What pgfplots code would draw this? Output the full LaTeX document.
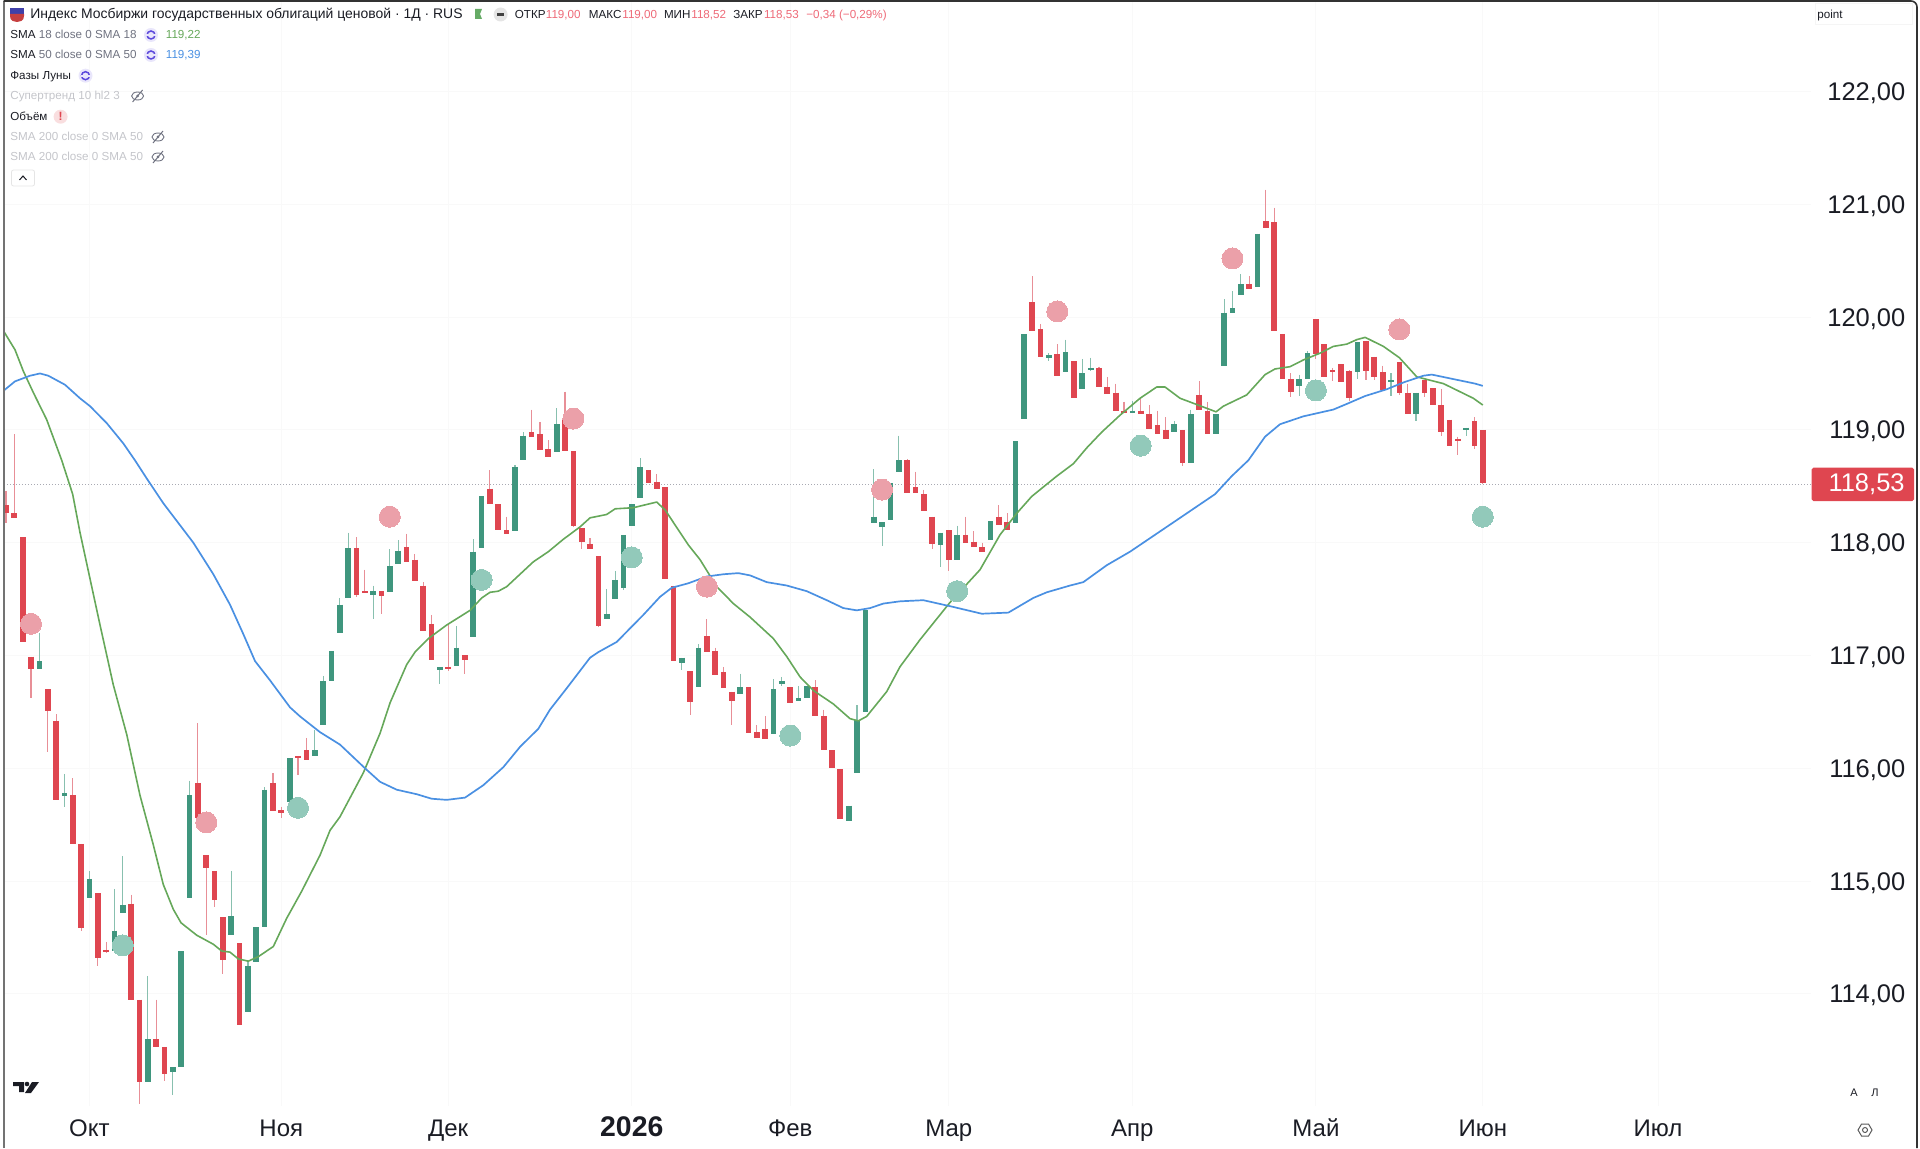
\documentclass[border=0pt]{standalone}
\usepackage{fontspec}
\setmainfont{Liberation Sans}
\usepackage{pgfplots}
\usepackage{pgfplotstable}
\pgfplotsset{compat=1.18}
\definecolor{cred}{HTML}{DF4650}
\definecolor{cgreen}{HTML}{3F967E}
\definecolor{wred}{HTML}{E88F97}
\definecolor{wgreen}{HTML}{88C0AF}
\definecolor{dpink}{HTML}{EBA0A9}
\definecolor{dteal}{HTML}{92C9BA}
\definecolor{sgreen}{HTML}{66A85A}
\definecolor{sblue}{HTML}{4A90E2}
\definecolor{vpink}{HTML}{EE6A78}
\definecolor{mgray}{HTML}{6F7280}
\definecolor{hgray}{HTML}{C4C5CA}
\definecolor{ink}{HTML}{1A1C24}
\definecolor{purp}{HTML}{5B48DC}
\definecolor{lav}{HTML}{E9E6FB}
\pgfplotstableread{
i top bot hi lo
0 118.33 118.26 118.46 118.17
1 118.26 118.22 118.96 118.22
2 118.05 117.12 118.05 117.12
3 116.99 116.88 116.99 116.62
5 116.70 116.51 116.70 116.14
6 116.42 115.72 116.48 115.72
8 115.76 115.33 115.91 115.33
9 115.33 114.58 115.33 114.56
11 114.89 114.32 114.89 114.25
12 114.39 114.37 114.46 114.36
15 114.80 113.95 114.88 113.95
16 113.95 113.22 113.95 113.02
18 113.60 113.53 113.95 113.53
19 113.53 113.29 113.53 113.23
23 115.87 115.56 116.40 115.56
24 115.23 115.12 115.23 114.52
25 115.09 114.83 115.09 114.77
26 114.68 114.30 114.68 114.18
28 114.45 113.72 114.45 113.72
32 115.87 115.62 115.96 115.62
33 115.63 115.60 115.66 115.56
35 116.11 116.09 116.11 115.94
36 116.16 116.07 116.27 116.07
42 117.95 117.54 118.05 117.52
43 117.57 117.55 117.76 117.55
45 117.57 117.53 117.57 117.37
48 117.96 117.83 118.08 117.83
49 117.85 117.66 117.90 117.66
50 117.62 117.22 117.65 117.22
51 117.28 116.96 117.36 116.96
53 116.90 116.88 117.28 116.86
55 117.00 116.96 117.00 116.84
58 118.48 118.34 118.64 118.34
59 118.34 118.11 118.34 118.11
60 118.11 118.08 118.23 118.08
63 118.98 118.94 119.18 118.94
64 118.96 118.82 119.07 118.82
65 118.83 118.76 118.91 118.76
67 119.09 118.81 119.34 118.81
68 118.81 118.15 118.81 118.14
69 118.13 118.01 118.13 117.94
70 117.99 117.94 118.04 117.94
71 117.88 117.26 117.88 117.25
77 118.64 118.53 118.64 118.53
78 118.54 118.48 118.61 118.48
79 118.49 117.68 118.49 117.68
80 117.62 116.95 117.62 116.95
82 116.86 116.59 116.86 116.47
84 117.17 117.03 117.32 117.03
85 117.04 116.83 117.07 116.83
86 116.85 116.71 116.90 116.71
87 116.68 116.60 116.68 116.38
89 116.72 116.31 116.72 116.31
90 116.32 116.27 116.38 116.27
91 116.35 116.26 116.46 116.26
94 116.72 116.58 116.72 116.58
97 116.72 116.46 116.78 116.46
98 116.46 116.16 116.52 116.16
99 116.16 116.00 116.16 116.00
100 115.99 115.55 115.99 115.55
108 118.73 118.44 118.74 118.44
109 118.49 118.44 118.63 118.44
110 118.43 118.28 118.47 118.28
111 118.23 117.99 118.23 117.94
113 118.11 117.85 118.11 117.75
115 118.07 118.00 118.23 118.00
116 118.01 117.96 118.10 117.96
117 117.96 117.92 118.00 117.92
119 118.23 118.16 118.33 118.16
120 118.18 118.11 118.26 118.11
123 120.13 119.88 120.36 119.88
124 119.89 119.65 119.94 119.65
126 119.67 119.48 119.76 119.48
128 119.61 119.28 119.61 119.28
131 119.55 119.38 119.56 119.38
132 119.38 119.32 119.47 119.32
133 119.33 119.17 119.41 119.17
134 119.17 119.15 119.25 119.15
136 119.17 119.14 119.27 119.14
137 119.14 119.01 119.22 119.01
138 119.04 118.96 119.17 118.96
139 119.00 118.92 119.11 118.92
141 119.00 118.71 119.00 118.68
143 119.31 119.18 119.43 119.18
144 119.17 118.96 119.25 118.96
149 120.29 120.25 120.36 120.25
151 120.85 120.79 121.13 120.79
152 120.84 119.88 120.97 119.88
153 119.85 119.45 119.85 119.45
154 119.45 119.34 119.50 119.29
157 119.98 119.67 119.98 119.63
158 119.76 119.47 119.76 119.47
159 119.53 119.51 119.55 119.43
160 119.58 119.42 119.58 119.42
161 119.52 119.28 119.53 119.26
163 119.79 119.52 119.79 119.44
164 119.65 119.47 119.65 119.44
165 119.51 119.35 119.57 119.35
167 119.60 119.33 119.60 119.31
168 119.33 119.14 119.41 119.14
170 119.44 119.33 119.44 119.29
171 119.37 119.22 119.37 119.22
172 119.22 118.98 119.36 118.95
173 119.09 118.86 119.09 118.86
174 118.92 118.90 118.94 118.78
176 119.08 118.86 119.11 118.83
177 119.00 118.53 119.00 118.52
}\redbars
\pgfplotstableread{
i top bot hi lo
4 116.95 116.88 117.20 116.88
7 115.78 115.75 115.95 115.66
10 115.02 114.85 115.09 114.85
13 114.56 114.38 114.93 114.38
14 114.79 114.72 115.22 114.72
17 113.60 113.22 114.16 113.22
20 113.35 113.31 113.35 113.10
21 114.38 113.35 114.38 113.35
22 115.76 114.85 115.89 114.85
27 114.69 114.52 115.09 114.52
29 114.25 113.84 114.29 113.84
30 114.59 114.28 114.59 114.28
31 115.81 114.59 115.83 114.59
34 116.09 115.70 116.09 115.70
37 116.16 116.11 116.34 116.11
38 116.77 116.38 116.82 116.38
39 117.04 116.77 117.04 116.77
40 117.45 117.20 117.51 117.20
41 117.95 117.51 118.09 117.51
44 117.57 117.54 117.62 117.32
46 117.79 117.56 117.94 117.56
47 117.93 117.81 118.02 117.81
52 116.90 116.87 116.90 116.75
54 117.07 116.91 117.26 116.91
56 117.92 117.16 118.03 117.16
57 118.41 117.95 118.41 117.95
61 118.67 118.10 118.69 118.10
62 118.95 118.73 118.98 118.73
66 119.05 118.80 119.19 118.80
72 117.37 117.32 117.59 117.32
73 117.67 117.50 117.75 117.50
74 118.07 117.60 118.07 117.58
75 118.34 118.15 118.34 118.15
76 118.67 118.40 118.75 118.40
81 116.98 116.93 116.98 116.87
83 117.07 116.72 117.10 116.72
88 116.72 116.66 116.84 116.66
92 116.70 116.30 116.79 116.30
93 116.77 116.75 116.81 116.73
95 116.62 116.60 116.73 116.60
96 116.73 116.62 116.73 116.62
101 115.67 115.53 115.67 115.53
102 116.43 115.96 116.56 115.96
103 117.40 116.50 117.40 116.50
104 118.23 118.17 118.65 118.17
105 118.18 118.14 118.18 117.97
106 118.53 118.20 118.53 118.20
107 118.73 118.63 118.95 118.63
112 118.09 117.98 118.09 117.78
114 118.07 117.85 118.15 117.85
118 118.19 118.02 118.19 118.02
121 118.90 118.17 118.90 118.17
122 119.85 119.10 119.85 119.10
125 119.66 119.64 119.68 119.61
127 119.69 119.51 119.80 119.51
129 119.50 119.36 119.63 119.36
130 119.55 119.53 119.64 119.52
135 119.17 119.15 119.26 119.15
140 119.05 118.98 119.08 118.98
142 119.14 118.71 119.18 118.71
145 119.14 118.96 119.14 118.96
146 120.04 119.57 120.16 119.57
147 120.08 120.04 120.23 120.04
148 120.29 120.20 120.38 120.20
150 120.74 120.27 120.74 120.27
155 119.45 119.39 119.49 119.30
156 119.68 119.45 119.70 119.45
162 119.78 119.51 119.78 119.45
166 119.44 119.42 119.50 119.30
169 119.33 119.14 119.33 119.08
175 119.02 119.00 119.02 118.95
}\greenbars
\pgfplotstableread{
x y
-0.24 119.87
1.08 119.71
2.08 119.52
3.28 119.33
4.88 119.09
6.68 118.73
7.99 118.43
8.87 118.09
10.07 117.68
11.27 117.27
12.86 116.74
14.47 116.30
16.06 115.76
17.66 115.32
18.85 114.97
20.05 114.75
20.98 114.63
22.86 114.52
24.85 114.44
25.85 114.38
26.85 114.37
27.84 114.31
29.04 114.29
30.24 114.33
32.04 114.42
33.64 114.67
35.44 114.91
37.64 115.23
38.84 115.45
40.03 115.57
42.83 115.96
44.83 116.31
46.03 116.58
48.03 116.92
49.02 117.03
50.62 117.15
52.82 117.27
55.62 117.40
57.02 117.51
58.01 117.56
59.01 117.57
60.01 117.61
63.2 117.83
65 117.92
66.8 118.03
68.8 118.14
70 118.22
72 118.25
73 118.30
75.19 118.31
77.99 118.36
79 118.29
81.78 117.98
83.18 117.85
85.19 117.61
87.18 117.46
89.18 117.34
91.97 117.15
93.58 116.99
95.17 116.81
96.76 116.69
99.16 116.57
101.16 116.44
102.16 116.42
103.16 116.46
105.56 116.68
107.15 116.90
109.55 117.14
113.14 117.47
116.74 117.76
119.14 118.07
121.14 118.26
122.94 118.41
125.94 118.59
127.93 118.70
129.53 118.84
131.33 118.98
133.52 119.13
135.92 119.28
137.92 119.38
138.92 119.38
140.72 119.28
145.03 119.16
145.91 119.21
148.71 119.31
150.91 119.49
152.1 119.54
153.9 119.56
155.5 119.62
157.5 119.68
159.09 119.74
160.7 119.76
161.9 119.80
162.9 119.82
165.09 119.74
167 119.64
169.09 119.47
170.68 119.44
172.28 119.41
175.87 119.28
177 119.22
}\smaA
\pgfplotstableread{
x y
-0.24 119.35
1.08 119.43
2.88 119.48
4.08 119.50
5.07 119.48
7.07 119.40
8.87 119.28
10.07 119.21
12.07 119.06
14.06 118.88
15.46 118.73
16.86 118.57
18.85 118.35
22.45 118.00
24.85 117.72
26.85 117.45
28.44 117.19
29.85 116.95
31.64 116.78
34.04 116.54
35.24 116.46
37.64 116.32
40.03 116.21
43.03 116.00
44.83 115.88
46.83 115.81
49.23 115.77
51.02 115.73
52.82 115.72
55.02 115.74
57.21 115.85
59.61 116.01
61.61 116.19
63.8 116.35
65.2 116.52
67.21 116.71
70 116.98
71 117.03
73.2 117.12
74.79 117.24
76.39 117.36
78.39 117.52
79.79 117.60
81.78 117.64
83.99 117.70
85.98 117.72
87.77 117.73
89.18 117.71
91.18 117.65
93.58 117.62
95.97 117.57
98.37 117.49
100.36 117.42
101.96 117.40
103.56 117.42
105.15 117.46
107.15 117.48
109.95 117.49
113.55 117.43
116.95 117.37
120.14 117.38
123.13 117.51
124.74 117.56
127.53 117.62
129.12 117.65
131.93 117.80
134.72 117.92
137.92 118.08
140.32 118.20
144.91 118.43
146.91 118.59
148.9 118.73
150.91 118.94
152.7 119.05
155.5 119.12
159.09 119.18
160.7 119.23
162.9 119.30
165.49 119.36
167.48 119.42
169.88 119.48
170.89 119.49
173.48 119.45
176.08 119.41
177 119.39
}\smaB
\pgfplotstableread{
i p
3 117.28
24 115.52
46 118.23
68 119.10
84 117.61
105 118.47
126 120.05
147 120.52
167 119.89
}\moonfull
\pgfplotstableread{
i p
14 114.43
35 115.65
57 117.67
75 117.87
94 116.29
114 117.57
136 118.86
157 119.35
177 118.23
}\moonnew
% helpers for the header
\newcommand\hd[1]{\fontsize{6.97pt}{8pt}\selectfont #1}
\newcommand\sm[1]{\fontsize{5.82pt}{7pt}\selectfont #1}
\tikzset{lab/.style={anchor=west,inner sep=0pt,text height=5pt,text depth=1.2pt}}
\newcommand\refresh[2]{%
  \fill[lav] (#1,#2) circle (7);
  \draw[purp,line width=.75pt] (#1,#2) circle (4);
  \fill[lav] (#1-5,#2-1) rectangle (#1-2,#2+1);
  \fill[lav] (#1+2,#2-1) rectangle (#1+5,#2+1);}
\newcommand\eyeoff[2]{%
  \draw[mgray,line width=.45pt] (#1,#2) ellipse (6 and 4);
  \fill[mgray] (#1,#2) circle (1.5);
  \draw[mgray,line width=.5pt] (#1-5,#2+6) -- (#1+5,#2-6);}
\begin{document}
\begin{tikzpicture}
\useasboundingbox (0,0) rectangle (960pt,574pt);
\begin{axis}[
  at={(2pt,21pt)},anchor=south west,
  scale only axis,width=903.5pt,height=552pt,
  xmin=-0.24,xmax=216.34,ymin=113.006,ymax=122.793,
  axis line style={draw=none},
  major tick length=0pt,
  grid=major,
  grid style={color=black!2.5,line width=.5pt},
  xtick={10,33,53,75,94,113,135,157,177,198},
  xticklabels={Окт,Ноя,Дек,{\fontsize{14.2pt}{16pt}\selectfont\textbf{2026}},Фев,Мар,Апр,Май,Июн,Июл},
  ytick={114,115,116,117,118,119,120,121,122},
  yticklabels={114{,}00,115{,}00,116{,}00,117{,}00,118{,}00,119{,}00,120{,}00,121{,}00,122{,}00},
  ticklabel pos=right,
  xticklabel pos=bottom,
  yticklabel pos=right,
  xticklabel style={font=\fontsize{12pt}{14pt}\selectfont,text=ink,anchor=base,yshift=-15pt},
  yticklabel style={font=\fontsize{12.75pt}{15pt}\selectfont,text=ink,anchor=east,xshift=50.7pt,yshift=-.9pt},
  clip=true,
]
% close price line
\addplot[mgray!60,line width=.3pt,dash pattern=on .5pt off 1pt] coordinates {(-0.24,118.52) (216.34,118.52)};
% moon phases
\addplot[only marks,color=dpink,mark=*,mark size=5.25pt,mark options={draw=dpink,line width=0pt,fill=dpink}] table[x=i,y=p] {\moonfull};
\addplot[only marks,color=dteal,mark=*,mark size=5.25pt,mark options={draw=dteal,line width=0pt,fill=dteal}] table[x=i,y=p] {\moonnew};
% wicks
\addplot[draw=none,mark=none,error bars/.cd,y dir=minus,y explicit,error mark=none,error bar style={line width=.55pt,color=wred}]
  table[x=i,y=hi,y error minus expr=\thisrow{hi}-\thisrow{lo}] {\redbars};
\addplot[draw=none,mark=none,error bars/.cd,y dir=minus,y explicit,error mark=none,error bar style={line width=.55pt,color=wgreen}]
  table[x=i,y=hi,y error minus expr=\thisrow{hi}-\thisrow{lo}] {\greenbars};
% bodies
\addplot[draw=none,mark=none,error bars/.cd,y dir=minus,y explicit,error mark=none,error bar style={line width=2.85pt,color=cred}]
  table[x=i,y=top,y error minus expr=\thisrow{top}-\thisrow{bot}] {\redbars};
\addplot[draw=none,mark=none,error bars/.cd,y dir=minus,y explicit,error mark=none,error bar style={line width=2.85pt,color=cgreen}]
  table[x=i,y=top,y error minus expr=\thisrow{top}-\thisrow{bot}] {\greenbars};
% moving averages
\addplot[sgreen,line width=.8pt,line join=round] table[x=x,y=y] {\smaA};
\addplot[sblue,line width=.85pt,line join=round] table[x=x,y=y] {\smaB};
\end{axis}
\begin{scope}[yshift=574pt,x=.5pt,y=-.5pt]
% frame
\draw[black!55,line width=1pt] (3.5,1148) -- (3.5,1);
\draw[black!80,line width=.8pt,rounded corners=3pt] (3.5,1) -- (1917,1) -- (1917,1148);
% price badge
\fill[cred,rounded corners=.8pt] (1811.7,467.7) rectangle (1914,501);
\node[anchor=east,inner sep=0pt,text=white,font=\fontsize{12.75pt}{15pt}\selectfont] at (1905,484) {118,53};
% flag
\fill[blue!55!black!75] (10,8) rectangle (24,14);
\fill[red!70!black!75] (10,14) -- (24,14) -- (24,16) .. controls (24,21) and (20,22) .. (17,22) .. controls (14,22) and (10,21) .. (10,16) -- cycle;
% title row
\node[lab,text=ink] at (30,14.5) {\hd{Индекс Мосбиржи государственных облигаций ценовой · 1Д · RUS}};
\fill[green!45!black!60] (475,9) -- (482,9) -- (480,14) -- (482,19) -- (475,19) -- cycle;
\fill[black!10] (500.6,14.5) circle (7);
\fill[black!75] (497,13) rectangle (504,16);
\node[lab,text=ink] at (514.5,14.5) {\sm{ОТКР}};
\node[lab,text=vpink] at (545.5,14.5) {\sm{119,00}};
\node[lab,text=ink] at (588.5,14.5) {\sm{МАКС}};
\node[lab,text=vpink] at (622,14.5) {\sm{119,00}};
\node[lab,text=ink] at (663.6,14.5) {\sm{МИН}};
\node[lab,text=vpink] at (691,14.5) {\sm{118,52}};
\node[lab,text=ink] at (733,14.5) {\sm{ЗАКР}};
\node[lab,text=vpink] at (763.6,14.5) {\sm{118,53}};
\node[lab,text=vpink] at (806,14.5) {\sm{−0,34 (−0,29\%)}};
\draw[black!4,line width=.4pt] (1815,3) rectangle (1912,24);
\node[lab,text=ink] at (1817,14.5) {\sm{point}};
% indicators
\node[lab,text=mgray] at (10,35) {\sm{\textcolor{ink}{SMA} 18 close 0 SMA 18}};
\refresh{151}{35}
\node[lab,text=sgreen] at (165.5,35) {\sm{119,22}};
\node[lab,text=mgray] at (10,55) {\sm{\textcolor{ink}{SMA} 50 close 0 SMA 50}};
\refresh{151}{55}
\node[lab,text=sblue] at (165.5,55) {\sm{119,39}};
\node[lab,text=ink] at (10,75.7) {\sm{Фазы Луны}};
\refresh{85.5}{75.7}
\node[lab,text=hgray] at (10,96) {\sm{Супертренд 10 hl2 3}};
\eyeoff{137.6}{96}
\node[lab,text=ink] at (10,116.7) {\sm{Объём}};
\fill[cred!18] (60.6,116.7) circle (7);
\node[inner sep=0pt,text=cred,font=\fontsize{6pt}{7pt}\selectfont\bfseries] at (60.6,116.7) {!};
\node[lab,text=hgray] at (10,137) {\sm{SMA 200 close 0 SMA 50}};
\eyeoff{158}{137}
\node[lab,text=hgray] at (10,157) {\sm{SMA 200 close 0 SMA 50}};
\eyeoff{158}{157}
\draw[black!10,line width=.4pt,rounded corners=1pt] (11.5,170) rectangle (34.5,186);
\draw[ink,line width=.5pt] (19.5,180) -- (23,176) -- (26.5,180);
% logo
\fill[ink] (13,1082) -- (24,1082) -- (24,1092) -- (19,1092) -- (19,1086) -- (13,1086) -- cycle;
\fill[ink] (27,1084) circle (2.3);
\fill[ink] (32,1082) -- (39,1082) -- (31,1093) -- (25,1093) -- cycle;
% bottom-right controls
\node[inner sep=0pt,text=ink,font=\fontsize{5.5pt}{7pt}\selectfont] at (1854,1093) {А};
\node[inner sep=0pt,text=ink,font=\fontsize{5.5pt}{7pt}\selectfont] at (1875,1093) {Л};
\draw[black!65,line width=.5pt] (1858,1130) -- (1861.5,1124) -- (1868.5,1124) -- (1872,1130) -- (1868.5,1136) -- (1861.5,1136) -- cycle;
\draw[black!65,line width=.5pt] (1865,1130) circle (2.5);
\end{scope}
\end{tikzpicture}
\end{document}
